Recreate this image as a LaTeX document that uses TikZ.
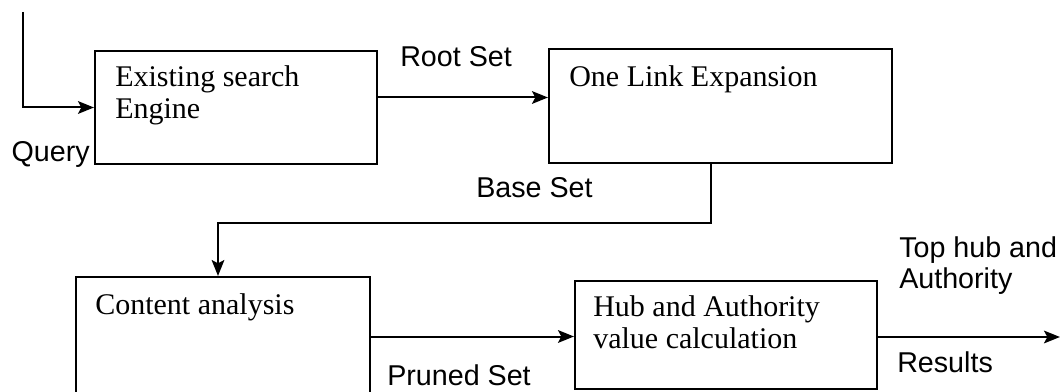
\documentclass[tikz,border=0pt]{standalone}
\usepackage{fontspec}
\setmainfont{Liberation Serif}
\newfontfamily\labelfont{Liberation Sans}
\usetikzlibrary{arrows.meta,positioning}

\begin{document}
\begin{tikzpicture}[
  x=0.75pt, y=-0.75pt,
  box/.style={rectangle, draw=black, line width=1.5pt, inner sep=0pt},
  boxtext/.style={anchor=base west, align=left, inner sep=0pt,
                  font=\fontsize{22.5}{24.5}\selectfont},
  setlabel/.style={anchor=base west, align=left, inner sep=0pt,
                   font=\labelfont\fontsize{21.5}{24}\selectfont},
  fwd/.style={-{Stealth[length=12pt,width=9.5pt,inset=2.5pt]}, line width=1.5pt}
]
  \useasboundingbox (0,0) rectangle (1061,392);

  % process boxes
  \node[box, minimum width=211.5pt, minimum height=84.75pt] (engine) at (236,107.5) {};
  \node[box, minimum width=257.25pt, minimum height=85.5pt] (expand) at (720.5,106) {};
  \node[box, minimum width=220.5pt, minimum height=89.25pt] (content) at (223,336.5) {};
  \node[box, minimum width=226.5pt, minimum height=81pt] (hubauth) at (726,335) {};

  % base anchor of a two-line node sits on its last line
  \node[boxtext] (enginetxt)  at (115,119) {Existing search\\Engine};
  \node[boxtext] (expandtxt)  at (569,87)  {One Link Expansion};
  \node[boxtext] (contenttxt) at (95,315)  {Content analysis};
  \node[boxtext] (hubauthtxt) at (593,349) {Hub and Authority\\value calculation};

  % flow
  \coordinate (query) at (23,12);
  \coordinate (out)   at (1060,337);

  \draw[fwd] (query) |- (engine.west);
  \draw[fwd] ([yshift=7.5pt]engine.east) -- ([yshift=7.5pt]engine.east -| expand.west);
  \draw[fwd] ([xshift=-7pt]expand.south) -- ++(0,59) -| ([xshift=-3.75pt]content.north);
  \draw[fwd] (content.east) -- (content.east -| hubauth.west);
  \draw[fwd] ([yshift=-1.5pt]hubauth.east) -- (out);

  % labels
  \node[setlabel, anchor=base east] (qlbl) at (90,162) {Query};
  \node[setlabel] (rootlbl)   at (400,67)  {Root Set};
  \node[setlabel] (baselbl)   at (476,198) {Base Set};
  \node[setlabel] (prunedlbl) at (387,385) {Pruned Set};
  \node[setlabel] (toplbl)    at (899,289) {Top hub and\\Authority};
  \node[setlabel] (reslbl)    at (897,372) {Results};
\end{tikzpicture}
\end{document}
